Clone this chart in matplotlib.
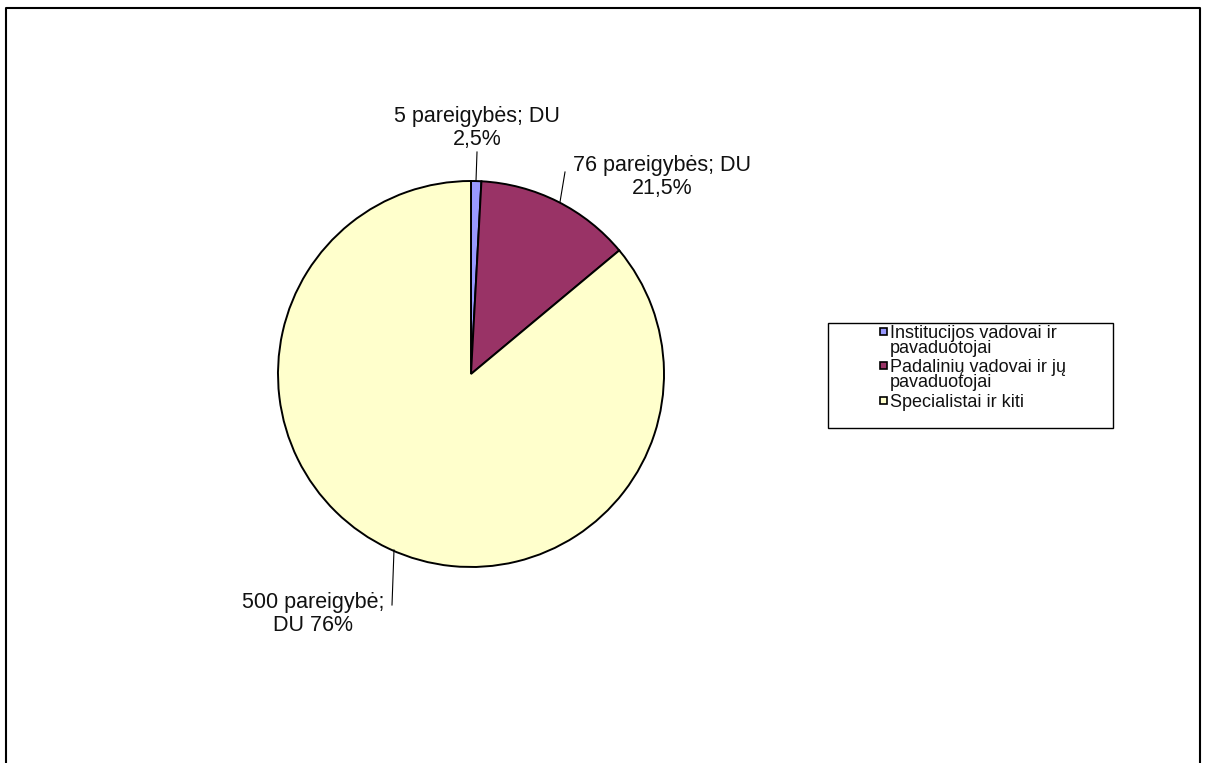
import matplotlib
matplotlib.use('Agg')
import matplotlib.pyplot as plt
from matplotlib.patches import Rectangle

plt.rcParams['font.family'] = ['Liberation Sans', 'DejaVu Sans']

# data
groups = ['Institucijos vadovai ir\npavaduotojai',
          'Padalinių vadovai ir jų\npavaduotojai',
          'Specialistai ir kiti']
positions = [5, 76, 500]
du_share = ['2,5%', '21,5%', '76%']
slice_labels = ['5 pareigybės; DU\n2,5%',
                '76 pareigybės; DU\n21,5%',
                '500 pareigybė;\nDU 76%']
colors = ['#9999FF', '#993366', '#FFFFCC']

W, H = 1206, 763
def Y(y):
    # pixel row (from top) -> data y
    return H - y

fig = plt.figure(figsize=(W / 100, H / 100), dpi=100)
ax = fig.add_axes([0, 0, 1, 1])

ax.pie(positions, colors=colors, startangle=90, counterclock=False,
       center=(471, Y(374)), radius=193,
       wedgeprops=dict(edgecolor='black', linewidth=1.4))
ax.set_xlim(0, W)
ax.set_ylim(0, H)
ax.set_aspect('equal')
ax.axis('off')

# slice labels with leader lines
lab_pos = [(477, 128), (662, 177), (313, 614)]
leaders = [((477, 152), (476, 181)),
           ((565, 172), (560, 202)),
           ((392, 605), (394, 550))]
for txt, (x, y), (p0, p1) in zip(slice_labels, lab_pos, leaders):
    ax.text(x, Y(y), txt, ha='center', va='center', fontsize=15.5,
            color='#111111', linespacing=1.1)
    ax.plot([p0[0], p1[0]], [Y(p0[1]), Y(p1[1])], color='black', lw=0.8)

# legend (drawn by hand to match layout)
ax.add_patch(Rectangle((828, Y(428)), 285, 105, fill=False,
                       edgecolor='black', lw=1.0))
baselines = [338, 372, 407]
for lab, col, b in zip(groups, colors, baselines):
    ax.add_patch(Rectangle((880, Y(b - 3)), 7, 7, facecolor=col,
                           edgecolor='black', lw=1.2))
    for k, line in enumerate(lab.split('\n')):
        ax.text(890, Y(b + 15 * k), line, ha='left', va='baseline',
                fontsize=13, color='#111111')

# outer frame
ax.plot([6, 6, 1200, 1200], [0, Y(8), Y(8), 0], color='black', lw=1.5)

fig.savefig('out.png', dpi=100)
